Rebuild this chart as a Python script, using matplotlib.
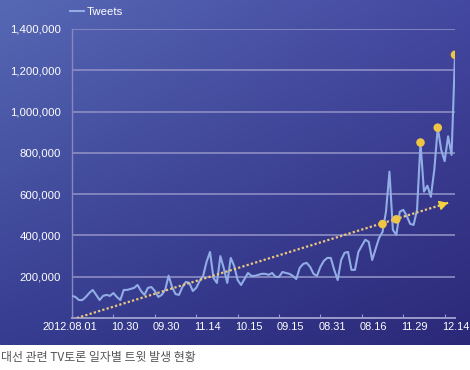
import numpy as np
import matplotlib
matplotlib.use("Agg")
import matplotlib.pyplot as plt
import matplotlib.transforms as mtransforms

# 일자별 트윗 수 (단위: 천 건), 그림에서 읽은 값
tweets_k = [107, 102, 87, 87, 102, 121, 136, 112, 87, 107,
            112, 107, 121, 102, 87, 136, 136, 141, 146, 160,
            131, 112, 146, 150, 131, 102, 112, 136, 205, 150,
            116, 112, 150, 175, 170, 131, 146, 180, 204, 272,
            320, 194, 170, 300, 240, 170, 291, 252, 184, 160,
            189, 218, 204, 204, 209, 214, 214, 209, 218, 199,
            199, 223, 218, 214, 204, 189, 243, 262, 267, 248,
            214, 204, 248, 277, 291, 291, 233, 184, 281, 316,
            320, 233, 233, 320, 350, 379, 369, 281, 335, 388,
            417, 515, 709, 427, 403, 515, 524, 495, 456, 451,
            524, 850, 612, 641, 587, 718, 922, 815, 760, 880,
            790, 1275]
tweets = np.array(tweets_k) * 1000
days = np.arange(len(tweets))

# 강조 점 (일자 인덱스, 값)
dot_idx = [90, 94, 101, 106, 111]
dot_vals = [455000, 478000, 850000, 922000, 1275000]

# 추세선 시작/끝
trend_x = [1.4, 109]
trend_y = [0, 558000]

tick_pos = [0, 12, 24, 36, 48, 60, 72, 84, 96, 108]
tick_labels = ["2012.08.01", "10.30", "09.30", "11.14", "10.15",
               "09.15", "08.31", "08.16", "11.29", "12.14"]
y_ticks = [200000, 400000, 600000, 800000, 1000000, 1200000, 1400000]

W, H = 470, 370
fig = plt.figure(figsize=(W / 100, H / 100), dpi=100)
fig.patch.set_facecolor("white")

# 파란 배경 패널 (그라데이션)
bg = fig.add_axes([0, 1 - 345 / H, 1, 345 / H])
bg.set_axis_off()
tl = np.array([0x56, 0x68, 0xb4]) / 255
tr = np.array([0x44, 0x48, 0xa0]) / 255
bl = np.array([0x36, 0x3c, 0x90]) / 255
br = np.array([0x2b, 0x28, 0x78]) / 255
gx = np.linspace(0, 1, 200)[None, :, None]
gy = np.linspace(0, 1, 150)[:, None, None]
grad = (1 - gy) * ((1 - gx) * tl + gx * tr) + gy * ((1 - gx) * bl + gx * br)
bg.imshow(grad, aspect="auto", extent=[0, 1, 0, 1], origin="upper")

left, right = 72 / W, 455 / W
bottom, top = (H - 318) / H, (H - 29) / H
ax = fig.add_axes([left, bottom, right - left, top - bottom])
ax.set_facecolor("none")

grid_c = "#8e8ec4"
for v in y_ticks:
    ax.axhline(v, color=grid_c, lw=1.4, alpha=0.85, zorder=1)

ax.plot(days, tweets, color="#92ade6", lw=1.5, zorder=3, label="Tweets")

gold = "#f0c445"
ax.plot(trend_x, trend_y, color="#ecc97c", lw=1.6, ls=(0, (1, 1)), zorder=4)
ax.annotate("", xy=(trend_x[1], trend_y[1]),
            xytext=(trend_x[1] - 1.5, trend_y[1] - 7800),
            arrowprops=dict(arrowstyle="-|>,head_length=0.55,head_width=0.3",
                            color="#f5d23c", lw=0.8), zorder=5)
ax.scatter(dot_idx, dot_vals, s=38, color=gold, zorder=6, edgecolors="none")

ax.set_xlim(0, 111)
ax.set_ylim(0, 1400000)

for s in ["top", "right"]:
    ax.spines[s].set_visible(False)
ax.spines["left"].set_color("#8888bb")
ax.spines["left"].set_linewidth(1.0)
ax.spines["bottom"].set_color("#9a9acc")
ax.spines["bottom"].set_linewidth(1.4)

font = "Liberation Sans"
ax.set_yticks(y_ticks)
ax.set_yticklabels([f"{v:,}" for v in y_ticks], fontsize=8.2, color="white",
                   family=font)
ax.tick_params(axis="y", length=0, pad=8)

ax.set_xticks(tick_pos)
ax.set_xticklabels(tick_labels, fontsize=7.9, color="white", family=font)
ax.tick_params(axis="x", direction="in", length=3, color="#9a9acc", pad=3)
shift = mtransforms.ScaledTranslation(-1.5 / 72, 0, fig.dpi_scale_trans)
for i, lbl in enumerate(ax.get_xticklabels()):
    lbl.set_ha("center" if i == 0 else "left")
    lbl.set_transform(lbl.get_transform() + shift)

ax.legend(loc="center left", bbox_to_anchor=(70 / W, 1 - 12 / H),
          bbox_transform=fig.transFigure, frameon=False, handlelength=1.2,
          handletextpad=0.3, borderpad=0, borderaxespad=0,
          prop={"family": font, "size": 8.2}, labelcolor="white")

fig.text(1 / W, 1 - 358 / H, "대선 관련 TV토론 일자별 트윗 발생 현황",
         family=["Noto Sans CJK KR", "DejaVu Sans"], fontsize=8.6,
         color="#555555", va="center", ha="left")

fig.savefig("out.png", dpi=100)
